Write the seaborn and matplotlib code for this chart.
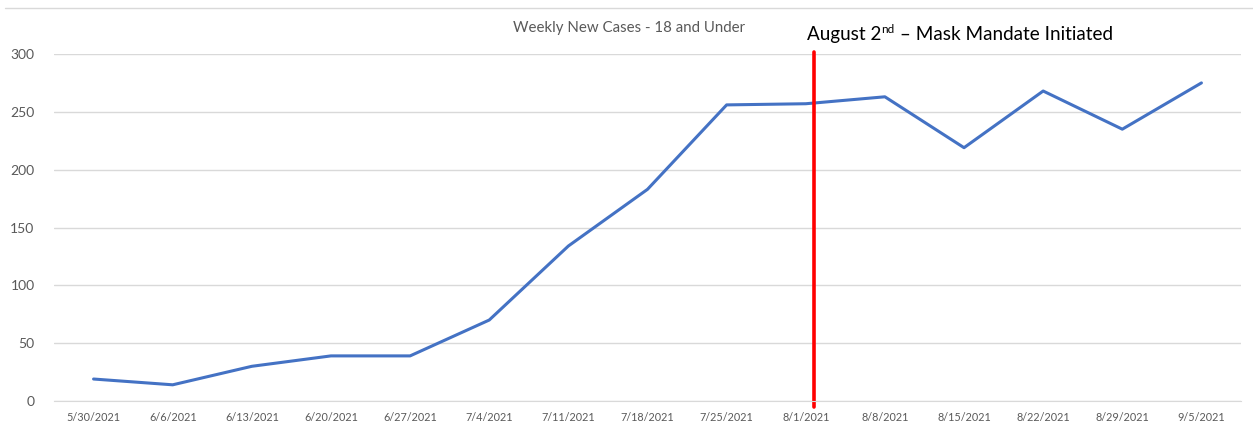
import pandas as pd
import matplotlib
matplotlib.use("Agg")
import matplotlib.pyplot as plt
import seaborn as sns

# Chart values
weeks = ["5/30/2021", "6/6/2021", "6/13/2021", "6/20/2021", "6/27/2021",
         "7/4/2021", "7/11/2021", "7/18/2021", "7/25/2021", "8/1/2021",
         "8/8/2021", "8/15/2021", "8/22/2021", "8/29/2021", "9/5/2021"]
new_cases = [19, 14, 30, 39, 39, 70, 134, 183, 256, 257, 263, 219, 268, 235, 275]
y_ticks = [0, 50, 100, 150, 200, 250, 300]
mandate_pos = 9.1  # August 2nd, just after the 8/1 week

sns.set_style("white")
plt.rcParams["font.family"] = ["Lato", "DejaVu Sans"]

df = pd.DataFrame({"week": range(len(weeks)), "cases": new_cases})

fig = plt.figure(figsize=(12.53, 4.28), dpi=100)
ax = fig.add_axes([54 / 1253, 1 - 401 / 428, (1241 - 54) / 1253, (401 - 54) / 428])

sns.lineplot(data=df, x="week", y="cases", ax=ax, color="#4472C4", linewidth=2.2)

# Axes styling (Excel look)
ax.set_xlim(-0.5, len(weeks) - 0.5)
ax.set_ylim(0, 300)
ax.set_yticks(y_ticks)
ax.set_xticks(range(len(weeks)))
ax.set_xticklabels(weeks, fontsize=7.8, color="#595959")
ax.set_xticks([i - 0.5 for i in range(len(weeks) + 1)], minor=True)
ax.tick_params(axis="x", which="major", length=0, pad=8)
ax.tick_params(axis="x", which="minor", length=5, color="#d9d9d9", width=1)
ax.tick_params(axis="y", length=0, labelsize=10, labelcolor="#595959", pad=14)
ax.set_xlabel("")
ax.set_ylabel("")
ax.grid(axis="y", color="#d9d9d9", linewidth=1)
for side in ["left", "right", "top"]:
    ax.spines[side].set_visible(False)
ax.spines["bottom"].set_color("#d9d9d9")

# Mandate line
ax.axvline(mandate_pos, ymin=-0.018, ymax=1.006, color="#ff0000", linewidth=2.6, clip_on=False)

# Title and outer border line
fig.text(629 / 1253, 1 - 28 / 428, "Weekly New Cases - 18 and Under",
         ha="center", va="center", fontsize=10.8, color="#595959")
fig.add_artist(plt.Line2D([5 / 1253, 1], [1 - 8 / 428, 1 - 8 / 428], color="#d9d9d9", linewidth=1))

# Annotation with superscript
x0, y0 = 807 / 1253, 1 - 40 / 428
t1 = fig.text(x0, y0, "August 2", fontsize=13.6, color="black", va="baseline")
fig.canvas.draw()
r = fig.canvas.get_renderer()
bb = t1.get_window_extent(r)
t2 = fig.text(bb.x1 / 1253, y0 + 7 / 428, "nd", fontsize=8.5, color="black", va="baseline")
bb2 = t2.get_window_extent(r)
fig.text(bb2.x1 / 1253, y0, " \u2013 Mask Mandate Initiated", fontsize=13.6, color="black", va="baseline")

fig.savefig("out.png", dpi=100)
